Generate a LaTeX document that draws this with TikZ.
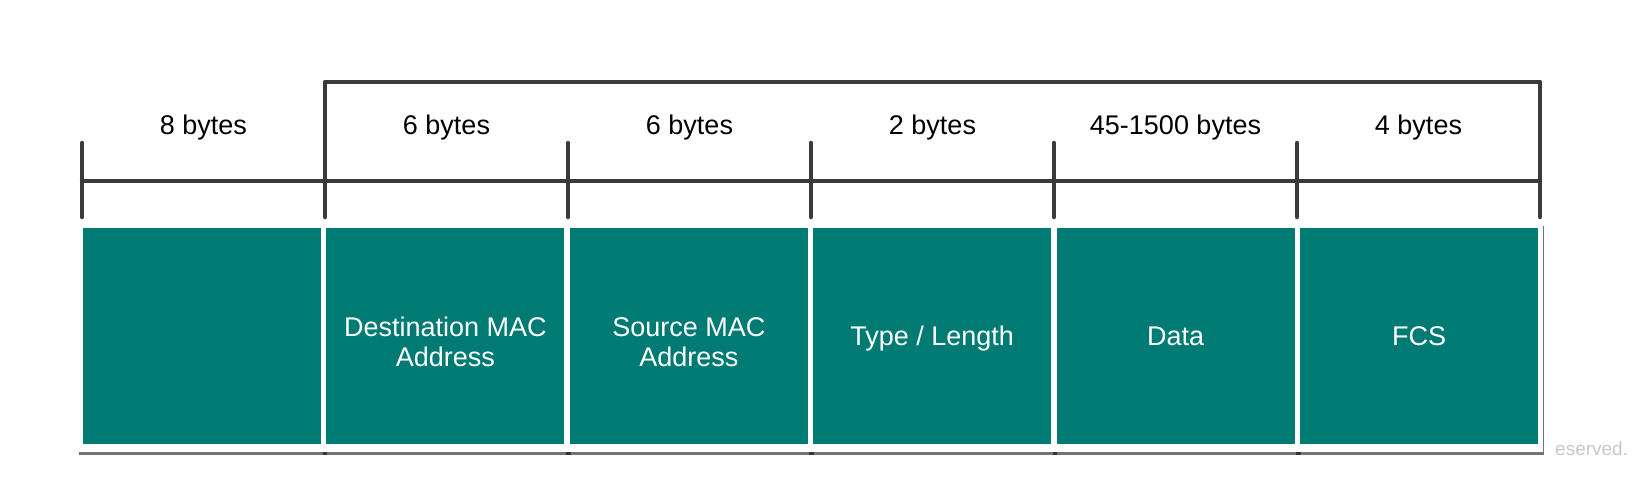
\documentclass[tikz,border=0pt]{standalone}
\usepackage{fontspec}
\setmainfont{Liberation Sans}
\usetikzlibrary{positioning,shadows}

\definecolor{fieldteal}{RGB}{0,123,116}
\definecolor{barline}{RGB}{58,58,58}

\begin{document}
\begin{tikzpicture}[
        x=1pt, y=-1pt,
        node distance=-5pt,
        card/.style={fill=white, inner sep=0pt, minimum width=248pt, minimum height=229pt,
            drop shadow={shadow xshift=1.2pt, shadow yshift=-2.5pt, opacity=.55, fill=black}},
        field/.style={fill=fieldteal, text=white, align=center, inner sep=0pt,
            minimum width=238pt, minimum height=216pt, text depth=0pt,
            font=\fontsize{27}{29.5}\selectfont},
        twoline/.style={text height=60pt},
        size/.style={anchor=base, inner sep=0pt, font=\fontsize{27}{29.5}\selectfont},
        bar/.style={draw=barline, line width=4.5pt, line cap=round, line join=round}
    ]
    \useasboundingbox (0,0) rectangle (1648,488);

    % --- Cards ---
    \node[card] (c1) at (202,337.5) {};
    \node[card, right=of c1] (c2) {};
    \node[card, right=of c2] (c3) {};
    \node[card, right=of c3] (c4) {};
    \node[card, right=of c4] (c5) {};
    \node[card, right=of c5] (c6) {};

    % --- Frame fields ---
    \node[field] (preamble) at ([yshift=1.5pt]c1.center) {};
    \node[field, twoline] (dest) at ([yshift=1.5pt]c2.center) {Destination MAC\\Address};
    \node[field, twoline] (src) at ([yshift=1.5pt]c3.center) {Source MAC\\Address};
    \node[field] (type) at ([yshift=1.5pt]c4.center) {Type / Length};
    \node[field] (data) at ([yshift=1.5pt]c5.center) {Data};
    \node[field] (fcs) at ([yshift=1.5pt]c6.center) {FCS};

    % --- Length bar ---
    \coordinate (k0) at (82,181);
    \coordinate (k1) at (325,181);
    \coordinate (k2) at (568,181);
    \coordinate (k3) at (811,181);
    \coordinate (k4) at (1054,181);
    \coordinate (k5) at (1297,181);
    \coordinate (k6) at (1540,181);

    \draw[bar] (k0) -- (k6);
    \draw[bar] ([yshift=38pt]k0) -- ([yshift=-36pt]k0);
    \draw[bar] ([yshift=38pt]k2) -- ([yshift=-36pt]k2);
    \draw[bar] ([yshift=38pt]k3) -- ([yshift=-36pt]k3);
    \draw[bar] ([yshift=38pt]k4) -- ([yshift=-36pt]k4);
    \draw[bar] ([yshift=38pt]k5) -- ([yshift=-36pt]k5);

    % bracket over the frame
    \draw[bar] ([yshift=-36pt]k1) -- ([yshift=99pt]k1) -| ([yshift=-36pt]k6);

    % --- Sizes ---
    \node[size] (s1) at (203.5,134) {8 bytes};
    \node[size] (s2) at (446.5,134) {6 bytes};
    \node[size] (s3) at (689.5,134) {6 bytes};
    \node[size] (s4) at (932.5,134) {2 bytes};
    \node[size] (s5) at (1175.5,134) {45-1500 bytes};
    \node[size] (s6) at (1418.5,134) {4 bytes};

    \node[anchor=base west, inner sep=0pt, text=black!22, font=\fontsize{19}{22}\selectfont] (rights) at (1555,455) {eserved.};

\end{tikzpicture}
\end{document}
